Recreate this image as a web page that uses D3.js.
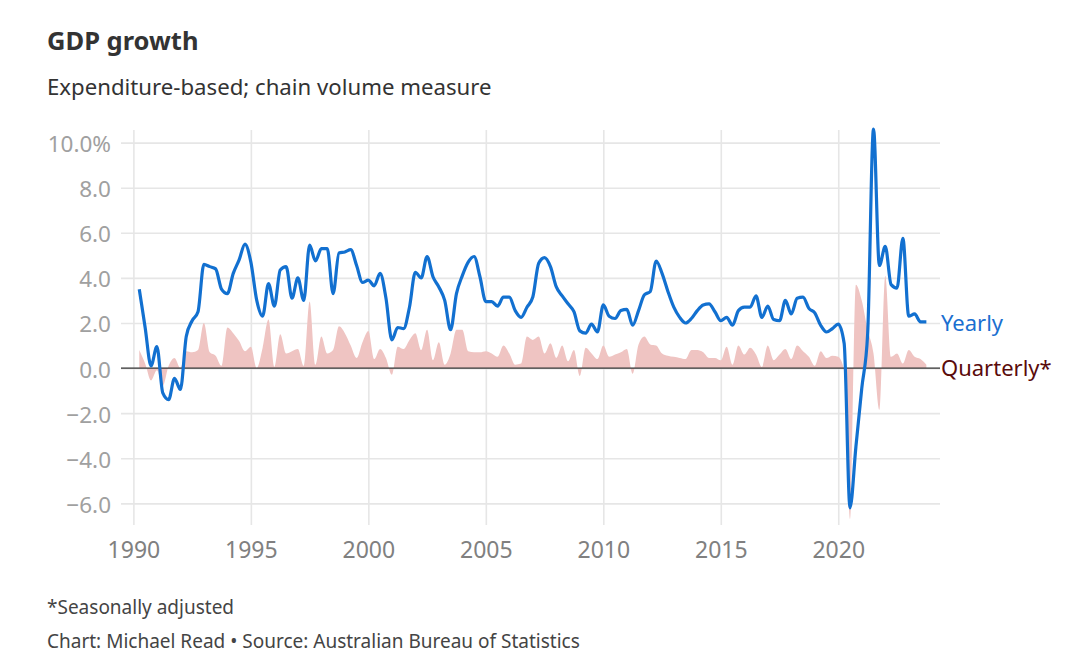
<!DOCTYPE html>
<html>
<head>
<meta charset="utf-8">
<script src="https://cdn.jsdelivr.net/npm/d3@7"></script>
<style>
  html, body { margin: 0; padding: 0; background: #fff; }
  svg { display: block; font-family: "Noto Sans", "Open Sans", sans-serif; }
</style>
</head>
<body>
<svg id="chart" width="1080" height="668"></svg>
<script>
// ---- Data ----
const firstQuarter = { year: 1990, month: 3 }; // March quarter 1990
const yearlyGrowth = [
  3.5, 1.8, 0.1, 0.95, -1.1, -1.4, -0.45, -0.95, 1.4, 2.1,
  2.5, 4.6, 4.5, 4.4, 3.5, 3.3, 4.2, 4.8, 5.5, 4.7,
  3.0, 2.3, 3.75, 2.75, 4.35, 4.5, 3.1, 4.0, 3.0, 5.45,
  4.75, 5.3, 5.3, 3.3, 5.1, 5.15, 5.25, 4.55, 3.8, 3.9,
  3.65, 4.2, 3.1, 1.25, 1.8, 1.75, 2.7, 4.25, 4.0, 4.95,
  4.05, 3.6, 3.0, 1.7, 3.3, 4.1, 4.7, 4.95, 4.05, 2.95,
  2.95, 2.75, 3.15, 3.15, 2.55, 2.25, 2.7, 3.15, 4.65, 4.9,
  4.5, 3.6, 3.2, 2.85, 2.5, 1.65, 1.55, 1.95, 1.6, 2.8,
  2.3, 2.2, 2.55, 2.6, 1.9, 2.55, 3.25, 3.4, 4.75, 4.2,
  3.4, 2.7, 2.25, 2.0, 2.2, 2.55, 2.8, 2.85, 2.5, 2.1,
  2.25, 1.9, 2.55, 2.7, 2.7, 3.2, 2.25, 2.75, 2.15, 2.1,
  3.0, 2.4, 3.1, 3.15, 2.65, 2.45, 1.9, 1.6, 1.75, 1.95,
  1.1, -6.2, -3.5, -0.9, 1.5, 10.6, 4.55, 5.4, 3.7, 3.55,
  5.75, 2.3, 2.4, 2.05, 2.05
];
const quarterlyGrowth = [
  0.8, 0.2, -0.55, -0.1, -0.8, 0.1, 0.45, 0.0, 0.75, 0.7,
  0.8, 2.0, 0.7, 0.55, 0.1, 1.8, 1.55, 1.2, 0.75, 0.95,
  0.0, 0.9, 2.15, 0.05, 1.5, 0.65, 0.75, 0.85, 0.1, 2.95,
  0.15, 1.4, 0.65, 0.8, 1.85, 1.55, 1.0, 0.45, 1.15, 1.65,
  0.4, 0.85, 0.45, -0.3, 0.95, 0.85, 1.25, 1.55, 0.8, 1.7,
  0.35, 1.15, 0.15, 0.65, 1.7, 1.7, 0.75, 0.7, 0.7, 0.75,
  0.65, 0.5, 1.0, 0.65, 0.15, 0.2, 1.4, 1.25, 1.4, 0.65,
  1.1, 0.45, 1.0, 0.3, 0.8, -0.35, 0.9, 0.65, 0.4, 1.0,
  0.5, 0.6, 0.7, 0.85, -0.25, 1.05, 1.4, 1.05, 1.0, 0.65,
  0.55, 0.5, 0.45, 0.4, 0.8, 0.8, 0.7, 0.45, 0.45, 0.35,
  0.95, 0.15, 1.0, 0.6, 0.9, 0.6, 0.05, 1.0, 0.35, 0.6,
  0.85, 0.4, 1.0, 0.75, 0.5, 0.1, 0.75, 0.45, 0.55, 0.5,
  -0.1, -6.7, 3.7, 3.0, 1.7, 0.65, -1.85, 4.1, 0.5, 0.65,
  0.2, 0.8, 0.5, 0.4, 0.15
];
const yTicks = [-6, -4, -2, 0, 2, 4, 6, 8, 10];
const xTicks = [1990, 1995, 2000, 2005, 2010, 2015, 2020];
const titleText = "GDP growth";
const subtitleText = "Expenditure-based; chain volume measure";
const footnoteText = "*Seasonally adjusted";
const creditText = "Chart: Michael Read \u2022 Source: Australian Bureau of Statistics";
const seriesLabels = ["Yearly", "Quarterly*"];

// quarter end dates as decimal years
const quarterDates = yearlyGrowth.map((_, i) => {
  const m = firstQuarter.month + 3 * i;
  return firstQuarter.year + Math.floor((m - 1) / 12) + (((m - 1) % 12) + 1) / 12;
});
const rows = quarterDates.map((t, i) => ({ t, yearly: yearlyGrowth[i], quarterly: quarterlyGrowth[i] }));

// ---- Layout ----
const svg = d3.select("#chart");
const plotL = 121, plotR = 940, plotT = 130, plotB = 525;
const x = d3.scaleLinear().domain([1989.43, 2024.33]).range([120, plotR]);
const y = d3.scaleLinear().domain([-6.96, 10.56]).range([plotB, plotT]);

// Title
svg.append("text").attr("x", 47).attr("y", 50)
  .attr("font-size", 25.5).attr("font-weight", 700).attr("fill", "#333").text(titleText);
svg.append("text").attr("x", 47).attr("y", 95)
  .attr("font-size", 22.2).attr("fill", "#333").text(subtitleText);

// Grid: horizontal
const yAxis = d3.axisLeft(y).tickValues(yTicks).tickSize(-(plotR - plotL))
  .tickFormat(d => (d === 10 ? d3.format(".1f")(d) + "%" : d3.format(".1f")(d).replace("-", "\u2212")));
const gy = svg.append("g").attr("transform", `translate(${plotL},0)`).call(yAxis);
gy.select(".domain").remove();
gy.selectAll(".tick line").attr("stroke", "#e6e6e6").attr("stroke-width", 1.6);
gy.selectAll(".tick text").attr("x", -10).attr("dy", "0.4em").attr("font-size", 22.5)
  .attr("fill", "#a0a0a0").attr("font-family", "Noto Sans, sans-serif");

// Grid: vertical
const xAxis = d3.axisBottom(x).tickValues(xTicks).tickSize(-(plotB - plotT)).tickFormat(d3.format("d"));
const gx = svg.append("g").attr("transform", `translate(0,${plotB})`).call(xAxis);
gx.select(".domain").remove();
gx.selectAll(".tick line").attr("stroke", "#e6e6e6").attr("stroke-width", 1.6);
gx.selectAll(".tick text").attr("y", 33).attr("dy", 0).attr("font-size", 23)
  .attr("fill", "#808080").attr("font-family", "Noto Sans, sans-serif");

// Quarterly area
const area = d3.area().x(d => x(d.t)).y0(y(0)).y1(d => y(d.quarterly)).curve(d3.curveMonotoneX);
svg.append("path").datum(rows).attr("d", area).attr("fill", "#efc4c2");

// Zero line
svg.append("line").attr("x1", plotL).attr("x2", plotR).attr("y1", y(0)).attr("y2", y(0))
  .attr("stroke", "#333").attr("stroke-width", 1.3);

// Yearly line
const line = d3.line().x(d => x(d.t)).y(d => y(d.yearly)).curve(d3.curveMonotoneX);
svg.append("path").datum(rows).attr("d", line).attr("fill", "none")
  .attr("stroke", "#1270d0").attr("stroke-width", 3.2).attr("stroke-linejoin", "round");

// Series labels
svg.append("text").attr("x", plotR + 1).attr("y", y(2)).attr("dy", "0.38em")
  .attr("font-size", 22).attr("fill", "#1a6fd0").text(seriesLabels[0]);
svg.append("text").attr("x", plotR + 1).attr("y", y(0)).attr("dy", "0.38em")
  .attr("font-size", 22).attr("fill", "#5a0b0b").text(seriesLabels[1]);

// Footer
svg.append("text").attr("x", 47).attr("y", 614).attr("font-size", 19).attr("fill", "#444").text(footnoteText);
svg.append("text").attr("x", 47).attr("y", 648).attr("font-size", 19).attr("fill", "#444").text(creditText);
</script>
</body>
</html>
